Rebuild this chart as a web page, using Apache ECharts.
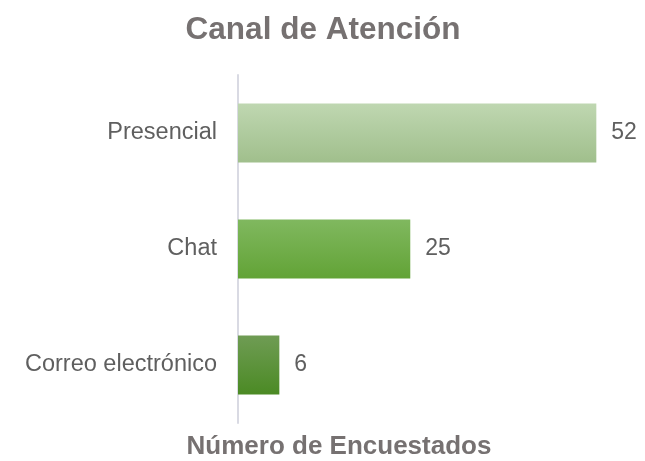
<!DOCTYPE html>
<html>
<head>
<meta charset="utf-8">
<script src="https://cdn.jsdelivr.net/npm/echarts@6/dist/echarts.min.js"></script>
<style>
  html, body { margin: 0; padding: 0; background: #fff; }
  #chart { width: 645px; height: 461px; }
</style>
</head>
<body>
<div id="chart"></div>
<script>
const categories = ['Correo electrónico', 'Chat', 'Presencial']
const values = [6, 25, 52]
// top / bottom gradient colours per bar
const barTop = ['#6f9c54', '#80b85f', '#bfd7b1']
const barBottom = ['#4b8a24', '#62a336', '#a0bf8c']

const chart = echarts.init(document.getElementById('chart'))

const option = {
  animation: false,
  title: [
    {
      text: 'Canal de Atención',
      left: 318,
      textAlign: 'center',
      top: 9,
      textStyle: { fontFamily: 'Liberation Sans', fontSize: 31.5, fontWeight: 'bold', color: '#767171' }
    },
    {
      text: 'Número de Encuestados',
      left: 334,
      textAlign: 'center',
      top: 429,
      textStyle: { fontFamily: 'Liberation Sans', fontSize: 26, fontWeight: 'bold', color: '#767171' }
    }
  ],
  grid: {
    left: 238,
    right: 28,
    top: 75,
    height: 348
  },
  xAxis: {
    type: 'value',
    min: 0,
    max: 55,
    show: false
  },
  yAxis: {
    type: 'category',
    data: categories,
    axisLine: { show: true, lineStyle: { color: '#d9dae3', width: 2 } },
    axisTick: { show: false },
    axisLabel: {
      margin: 21,
      padding: [6, 0, 0, 0],
      fontFamily: 'Liberation Sans',
      fontSize: 23.5,
      color: '#5f5f5f'
    }
  },
  series: [
    {
      type: 'bar',
      barWidth: 59,
      data: values.map((v, i) => ({
        value: v,
        itemStyle: {
          color: new echarts.graphic.LinearGradient(0, 0, 0, 1, [
            { offset: 0, color: barTop[i] },
            { offset: 1, color: barBottom[i] }
          ])
        }
      })),
      label: {
        show: true,
        position: 'right',
        distance: 15,
        padding: [6, 0, 0, 0],
        fontFamily: 'Liberation Sans',
        fontSize: 23,
        color: '#5f5f5f'
      }
    }
  ]
}

chart.setOption(option)
</script>
</body>
</html>
